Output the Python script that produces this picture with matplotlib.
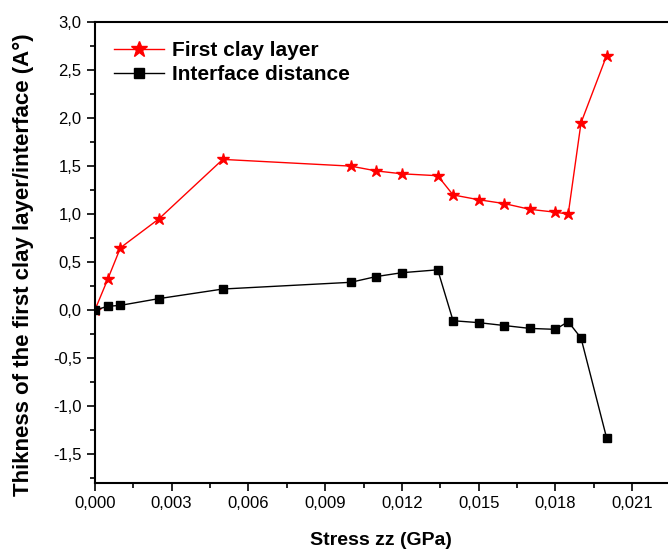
import matplotlib
matplotlib.use('Agg')
import matplotlib.pyplot as plt
from matplotlib.ticker import MultipleLocator, FuncFormatter

plt.rcParams['font.family'] = ['Liberation Sans', 'DejaVu Sans']

# stress (GPa)
stress = [0.0, 0.0005, 0.001, 0.0025, 0.005, 0.010, 0.011, 0.012, 0.0134,
          0.014, 0.015, 0.016, 0.017, 0.018, 0.0185, 0.019, 0.020]
# thickness of first clay layer
clay_layer = [0.0, 0.32, 0.65, 0.95, 1.57, 1.50, 1.45, 1.42, 1.40,
              1.20, 1.15, 1.11, 1.05, 1.02, 1.00, 1.95, 2.65]
# interface distance
interface = [0.0, 0.04, 0.05, 0.12, 0.22, 0.29, 0.35, 0.39, 0.42,
             -0.11, -0.13, -0.16, -0.19, -0.20, -0.12, -0.29, -1.33]

fig = plt.figure(figsize=(6.68, 5.52), dpi=100)
ax = fig.add_axes([0.142, 0.125, 0.858, 0.835])

ax.plot(stress, clay_layer, color='red', marker='*', markersize=9, lw=1,
        label='First clay layer')
ax.plot(stress, interface, color='black', marker='s', markersize=6, lw=1,
        label='Interface distance')

ax.set_xlim(0, 0.0224)
ax.set_ylim(-1.8, 3.0)
ax.xaxis.set_major_locator(MultipleLocator(0.003))
ax.xaxis.set_minor_locator(MultipleLocator(0.0015))
ax.yaxis.set_major_locator(MultipleLocator(0.5))
ax.yaxis.set_minor_locator(MultipleLocator(0.25))
ax.xaxis.set_major_formatter(FuncFormatter(lambda v, p: f'{v:.3f}'.replace('.', ',')))
ax.yaxis.set_major_formatter(FuncFormatter(lambda v, p: f'{v:.1f}'.replace('.', ',').replace('-0,0', '0,0')))

ax.tick_params(which='both', direction='out', width=1.2, labelsize=12, top=False, right=False)
ax.tick_params(which='major', length=6)
ax.tick_params(which='minor', length=3.5)
ax.spines['right'].set_visible(False)
for s in ['left', 'top', 'bottom']:
    ax.spines[s].set_linewidth(1.5)

ax.set_xlabel('Stress zz (GPa)', fontsize=14, fontweight='bold', labelpad=15)
ax.set_ylabel('Thikness of the first clay layer/interface (A°)', fontsize=16,
              fontweight='bold')
ax.yaxis.set_label_coords(-0.107, 0.473)

ax.legend(loc='upper left', frameon=False, prop={'weight': 'bold', 'size': 15},
          handlelength=2.4, borderaxespad=0.5, labelspacing=0.25, handletextpad=0.4,
          markerscale=1.3)

fig.savefig('out.png', dpi=100)
